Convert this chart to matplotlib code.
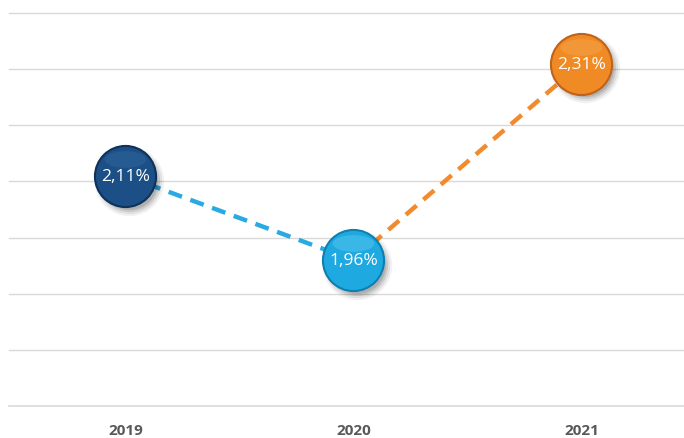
import matplotlib
matplotlib.use("Agg")
import matplotlib.pyplot as plt
import matplotlib.transforms as mtransforms
from matplotlib.markers import MarkerStyle
from matplotlib.path import Path
import numpy as np

years = ["2019", "2020", "2021"]
values = [2.11, 1.96, 2.31]
labels = ["2,11%", "1,96%", "2,31%"]
marker_colors = ["#1B4F85", "#1EA9E1", "#F08A24"]
edge_colors = ["#0E335A", "#0F7FB0", "#C0621A"]
highlight_colors = ["#3C72A8", "#6FD0F5", "#F7B060"]
segment_colors = ["#29ABE2", "#F28A2E"]

fig = plt.figure(figsize=(6.84, 4.39), dpi=100)
ax = fig.add_axes([9 / 684, (439 - 407) / 439, 675 / 684, 393 / 439])
ax.set_xlim(-0.51, 2.45)
ax.set_ylim(1.7, 2.4)

for y in np.arange(1.7, 2.41, 0.1):
    ax.axhline(y, color="#D9D9D9", lw=1.2 if y < 1.75 else 1.0, zorder=0,
               clip_on=False)

x = np.arange(len(years))
for i in range(len(values) - 1):
    ax.plot(x[i:i + 2], values[i:i + 2], color=segment_colors[i], lw=3.2,
            dashes=(3.2, 2.0), zorder=2, solid_capstyle="butt")

ms = 44
# shadows
for k, (s, a) in enumerate([(ms + 6, 0.05), (ms + 3, 0.07), (ms, 0.10), (ms - 3, 0.12)]):
    tr = mtransforms.offset_copy(ax.transData, fig=fig, x=2.5, y=-3.5, units="points")
    ax.plot(x, values, "o", ms=s, color="#000000", alpha=a, mec="none",
            transform=tr, zorder=3)

for i in range(len(values)):
    ax.plot(x[i], values[i], "o", ms=ms, color=marker_colors[i],
            mec=edge_colors[i], mew=1.5, zorder=4)
    # top highlight (ellipse)
    tr = mtransforms.offset_copy(ax.transData, fig=fig, x=0, y=12, units="points")
    theta = np.linspace(0, 2 * np.pi, 60)
    verts = np.column_stack([np.cos(theta), 0.4 * np.sin(theta)])
    ell = MarkerStyle(Path(verts, closed=True))
    ax.plot(x[i], values[i], marker=ell, ms=30, color=highlight_colors[i],
            alpha=0.35, mec="none", transform=tr, zorder=5, ls="none")
    ax.text(x[i], values[i], labels[i], color="white", fontsize=12.5,
            ha="center", va="center", family=["Open Sans", "DejaVu Sans"],
            zorder=6)

ax.set_xticks(x)
ax.set_xticklabels(years, fontsize=11, fontweight="bold", color="#595959",
                   family=["Open Sans", "DejaVu Sans"])
ax.tick_params(axis="x", length=0, pad=12)
ax.set_yticks([])
for sp in ax.spines.values():
    sp.set_visible(False)

fig.savefig("out.png", dpi=100)
